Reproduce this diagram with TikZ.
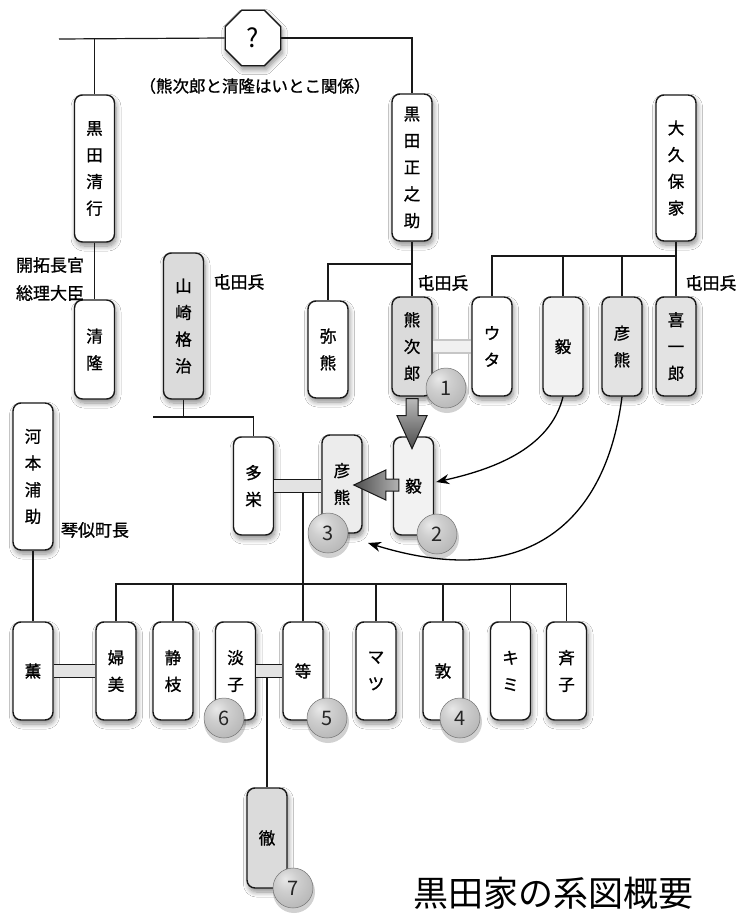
\documentclass[tikz,border=0pt]{standalone}
\usepackage{fontspec}
\setmainfont{Noto Sans CJK JP}
\newfontfamily\medfont{Noto Sans CJK JP}[FakeBold=1.1]
\usetikzlibrary{shapes.geometric,calc,arrows.meta,shadows.blur}
\pgfdeclareradialshading{myball}{\pgfpoint{-10bp}{12bp}}{%
  color(0bp)=(gray!18); color(14bp)=(gray!38); color(32bp)=(gray!55); color(50bp)=(gray!72); color(70bp)=(gray!85)}
\newcommand\marrybar[4]{%
  \fill[#4] ($(#1.east)+(0,-6.5)$) rectangle ($(#1.east -| #2.west)+(0,6.5)$);
  \draw[line width=1.2pt,#3] ($(#1.east)+(0,-6.5)$) -- ($(#1.east -| #2.west)+(0,-6.5)$);
  \draw[line width=1.2pt,#3] ($(#1.east)+(0,6.5)$) -- ($(#1.east -| #2.west)+(0,6.5)$);
}
\begin{document}
\begin{tikzpicture}[x=1pt,y=-1pt,
  shd/.style={blur shadow={shadow xshift=1.5pt, shadow yshift=-4pt, shadow blur radius=5pt, shadow blur steps=8, shadow opacity=45}},
  pbox/.style={draw=black!90, line width=1.4pt, rounded corners=8pt, minimum width=40pt,
    inner sep=0pt, align=center, font=\medfont\fontsize{16.5}{26.7}\selectfont, fill=white, shd},
  ball/.style={circle, minimum size=40pt, inner sep=0pt, shading=myball, draw=black!55, line width=0.5pt,
    font=\fontsize{20}{20}\selectfont, text=black!85},
  ballshadow/.style={circle, minimum size=42pt, inner sep=0pt, fill=black, opacity=0.18},
  lbl/.style={inner sep=0pt, font=\medfont\fontsize{17}{17}\selectfont},
  conn/.style={line width=1.2pt, black!90},
  curvearrow/.style={line width=1.3pt, -{Stealth[length=13pt,width=10pt]}},
  fatarrow/.style={draw=black!90, line width=1pt}
]
\useasboundingbox (0,0) rectangle (741,915);
\fill[white] (0,0) rectangle (741,915);

% top
\node[regular polygon, regular polygon sides=8, minimum size=60pt, draw=black!90, line width=1.4pt,
  fill=white, inner sep=0pt, font=\fontsize{26}{26}\selectfont, shd] (q) at (253,38) {?};
\node[lbl, font=\medfont\fontsize{16.5}{16.5}\selectfont] (note) at (255,86) {（熊次郎と清隆はいとこ関係）};

% generation 1
\node[pbox, minimum height=147pt] (kiyoyuki) at (94.5,168.5) {黒\\田\\清\\行};
\node[pbox, minimum height=147pt] (masanosuke) at (412,167.5) {黒\\田\\正\\之\\助};
\node[pbox, minimum height=146pt] (okubo) at (676,168) {大\\久\\保\\家};

% generation 2
\node[pbox, minimum height=99pt] (kiyotaka) at (94.5,349.5) {清\\隆};
\node[pbox, fill=gray!28, minimum height=146pt] (yamazaki) at (183.5,326) {山\\崎\\格\\治};
\node[pbox, minimum height=97pt] (yaguma) at (328,349.5) {弥\\熊};
\node[pbox, fill=gray!28, minimum height=99pt] (kumajiro) at (412,346.5) {熊\\次\\郎};
\node[pbox, minimum height=99pt] (uta) at (492,346.5) {ウ\\タ};
\node[pbox, fill=gray!10, minimum height=99pt] (takeshiA) at (563,346.5) {毅};
\node[pbox, fill=gray!22, minimum height=99pt] (hikogumaA) at (622,346.5) {彦\\熊};
\node[pbox, fill=gray!22, minimum height=99pt] (kiichiro) at (676,346.5) {喜\\一\\郎};

% labels
\node[lbl] (kaitaku) at (50,265) {開拓長官};
\node[lbl] (souri) at (50,293) {総理大臣};
\node[lbl] (tonden1) at (239,282) {屯田兵};
\node[lbl] (tonden2) at (443,283) {屯田兵};
\node[lbl] (tonden3) at (711,283) {屯田兵};
\node[lbl] (kotoni) at (95,530) {琴似町長};

% generation 3
\node[pbox, minimum height=147pt] (kawamoto) at (33,476.5) {河\\本\\浦\\助};
\node[pbox, minimum height=98pt] (tae) at (253.5,486) {多\\栄};
\node[pbox, fill=gray!15, minimum height=98pt] (hikogumaB) at (342,484) {彦\\熊};
\node[pbox, fill=gray!10, minimum height=98pt] (takeshiB) at (413.5,486) {毅};

% generation 4
\node[pbox, minimum height=98pt] (kaoru) at (33,671) {薫};
\node[pbox, minimum height=98pt] (fumi) at (116,671) {婦\\美};
\node[pbox, minimum height=98pt] (shizue) at (173,671) {静\\枝};
\node[pbox, minimum height=98pt] (awako) at (235.5,671) {淡\\子};
\node[pbox, minimum height=98pt] (hitoshi) at (303,671) {等};
\node[pbox, minimum height=98pt] (matsu) at (376,671) {マ\\ツ};
\node[pbox, minimum height=98pt] (atsushi) at (443,671) {敦};
\node[pbox, minimum height=98pt] (kimi) at (510.5,671) {キ\\ミ};
\node[pbox, minimum height=98pt] (seiko) at (566.5,671) {斉\\子};

% generation 5
\node[pbox, fill=gray!28, minimum height=100pt] (toru) at (267,838) {徹};

% title
\node[inner sep=0pt, font=\fontsize{35}{35}\selectfont] (title) at (553,893) {黒田家の系図概要};

% free ends of lines
\coordinate (tl) at (59,39);
\coordinate (mj) at (412,264);
\coordinate (ok) at (676,256);
\coordinate (yz) at (153,417);
\coordinate (cl) at (0,584);
\coordinate (hc) at (368,543);
\coordinate (tb) at ($(tae.east)+(0,6.5)$);
\coordinate (ab) at ($(awako.east)+(0,6.5)$);

% connectors
\draw[conn] (tl) -- (q.west);
\draw[conn] (q.east) -| (masanosuke.north);
\draw[conn] (kiyoyuki.north) -- (kiyoyuki.north |- tl);
\draw[conn] (kiyoyuki.south) -- (kiyotaka.north);
\draw[conn] (masanosuke.south) -- (kumajiro.north);
\draw[conn] (mj) -| (yaguma.north);
\draw[conn] (okubo.south) -- (kiichiro.north);
\draw[conn] (ok) -| (uta.north);
\draw[conn] (takeshiA.north) -- (takeshiA.north |- ok);
\draw[conn] (hikogumaA.north) -- (hikogumaA.north |- ok);
\draw[conn] (yamazaki.south) -- (yamazaki.south |- yz);
\draw[conn] (yz) -| (tae.north);
\draw[conn] (kawamoto.south) -- (kaoru.north);
\draw[conn] (fumi.north) |- (seiko.north |- cl) -- (seiko.north);
\draw[conn] (shizue.north) -- (shizue.north |- cl);
\draw[conn] (matsu.north) -- (matsu.north |- cl);
\draw[conn] (atsushi.north) -- (atsushi.north |- cl);
\draw[conn] (kimi.north) -- (kimi.north |- cl);
\draw[conn] (hitoshi.north) -- (hitoshi.north |- tb);
\draw[conn] (toru.north) -- (toru.north |- ab);

% marriage bars
\marrybar{kumajiro}{uta}{gray!45}{gray!12}
\marrybar{tae}{hikogumaB}{black!90}{gray!22}
\marrybar{kaoru}{fumi}{black!90}{gray!22}
\marrybar{awako}{hitoshi}{black!90}{gray!22}

% number balls
\foreach \nm/\px/\py/\lab in {n1/446/388/1, n2/437/534/2, n3/328/533/3, n4/460/718/4, n5/327/718/5, n6/224/718/6, n7/293/888/7}{
  \node[ballshadow] at (\px+1,\py+4) {};
  \node[ball] (\nm) at (\px,\py) {\lab};
}

% fat arrows
\path[fatarrow, top color=gray!55, bottom color=black!70]
  ($(kumajiro.south)+(-6,2)$) -- ++(0,17) -- ++(-9,0) -- ++(15,33) -- ++(15,-33) -- ++(-9,0) -- ++(0,-17) -- cycle;
\path[fatarrow, left color=black!70, right color=gray!60]
  ($(takeshiB.west)+(6,-7)$) -- ++(-13,0) -- ++(0,-9) -- ++(-32,15) -- ++(32,15) -- ++(0,-9) -- ++(13,0) -- cycle;

% curved arrows
\draw[curvearrow] (takeshiA.south) .. controls (550,450) and (490,470) .. ($(takeshiB.east)+(2,-4)$);
\draw[curvearrow] (hikogumaA.south) .. controls (605,530) and (520,590) .. (hc);
\end{tikzpicture}
\end{document}
